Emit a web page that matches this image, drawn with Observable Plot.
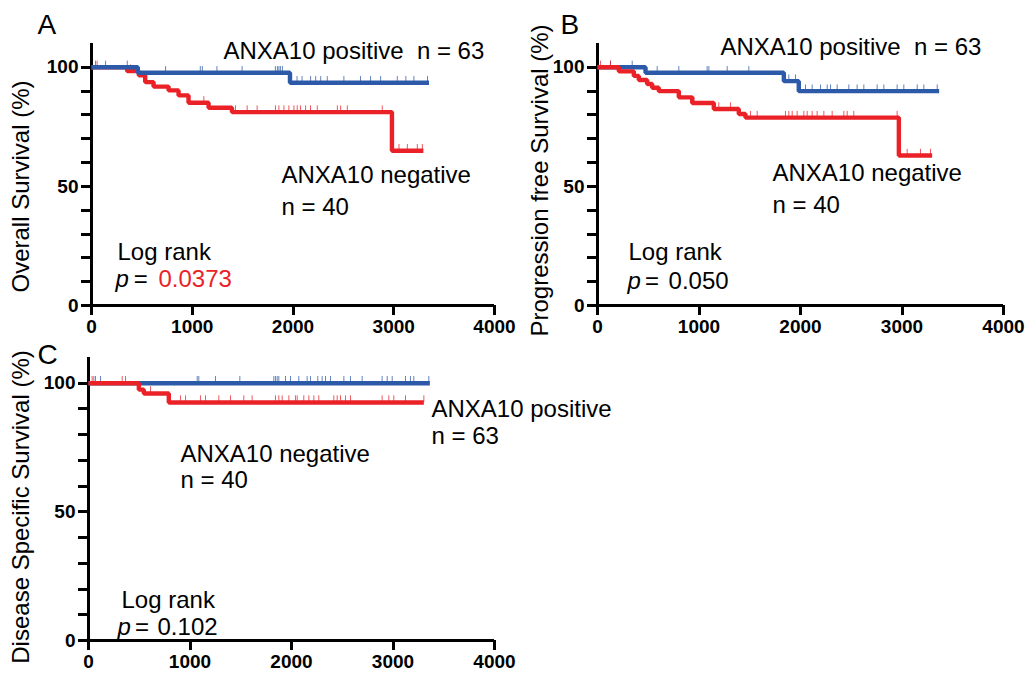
<!DOCTYPE html>
<html>
<head>
<meta charset="utf-8">
<script src="https://cdn.jsdelivr.net/npm/d3@7"></script>
<script src="https://cdn.jsdelivr.net/npm/@observablehq/plot@0.6"></script>
<style>
  html, body { margin: 0; padding: 0; background: #fff; }
  #wrap { position: relative; width: 1027px; height: 674px; overflow: hidden; background: #fff; }
  #wrap > div { position: absolute; }
  #wrap svg { overflow: visible; max-width: none !important; }
</style>
</head>
<body>
<div id="wrap">
  <div id="pA" style="left:0px;top:0px;width:510px;height:340px"></div>
  <div id="pB" style="left:510px;top:0px;width:517px;height:340px"></div>
  <div id="pC" style="left:0px;top:334px;width:640px;height:340px"></div>
</div>
<script>
// ---------- shared tick values ----------
const xTicks = [0, 1000, 2000, 3000, 4000];
const yTicks = [0, 10, 20, 30, 40, 50, 60, 70, 80, 90, 100];
const yTickLabels = [0, 50, 100];

// ---------- group labels ----------
const posLabel = "ANXA10 positive";
const negLabel = "ANXA10 negative";
const posN = "n = 63";
const negN = "n = 40";
const logRank = "Log rank";

// ---------- Panel A: Overall survival ----------
const osPosTime = [0, 460, 1970, 3350];
const osPosSurv = [100, 97.7, 93.5, 93.5];
const osNegTime = [0, 354, 470, 533, 616, 765, 864, 963, 1162, 1394, 2982, 3294];
const osNegSurv = [100, 98.4, 96.6, 93.8, 91.9, 90.3, 88.2, 85.1, 83.0, 81.2, 65.0, 65.0];
const osPosCensor = [40, 140, 355, 735, 1080, 1100, 1245, 1495, 1825, 1845, 1860, 1875, 1895, 2040, 2090, 2175, 2225, 2275, 2340, 2505, 2670, 2770, 2870, 3035, 3120, 3200, 3335];
const osNegCensor = [56, 387, 1115, 1165, 1429, 1545, 1644, 1826, 1860, 1910, 1959, 2009, 2042, 2075, 2125, 2174, 2241, 2440, 2473, 2539, 2886, 3052, 3135, 3234, 3284];
const osP = "0.0373";

// ---------- Panel B: Progression free survival ----------
const pfsPosTime = [0, 473, 1836, 1983, 3366];
const pfsPosSurv = [100, 97.7, 94.2, 90.0, 90.0];
const pfsNegTime = [0, 210, 358, 407, 489, 539, 604, 801, 933, 1146, 1392, 1458, 2969, 3297];
const pfsNegSurv = [100, 98.3, 96.4, 94.7, 93.0, 91.4, 90.0, 87.4, 85.0, 82.5, 80.4, 78.9, 63.0, 63.0];
const pfsPosCensor = [128, 342, 588, 801, 1080, 1097, 1278, 1491, 1885, 1951, 2049, 2115, 2197, 2263, 2296, 2361, 2476, 2558, 2624, 2755, 2821, 2952, 3018, 3150, 3215, 3347];
const pfsNegCensor = [30, 128, 818, 949, 1195, 1310, 1507, 1573, 1852, 1885, 1918, 1967, 2033, 2066, 2115, 2164, 2230, 2312, 2427, 2460, 2525, 2952, 3051, 3182, 3281];
const pfsP = "0.050";

// ---------- Panel C: Disease specific survival ----------
const dssPosTime = [0, 3363];
const dssPosSurv = [100, 100];
const dssNegTime = [0, 496, 545, 791, 3304];
const dssNegSurv = [100, 97.5, 96.0, 92.5, 92.5];
const dssPosCensor = [53, 118, 1071, 1087, 1251, 1491, 1826, 1842, 1859, 1875, 1941, 1990, 2072, 2154, 2187, 2259, 2302, 2335, 2384, 2516, 2581, 2696, 2893, 2943, 2992, 3123, 3172, 3205, 3353];
const dssNegCensor = [36, 69, 332, 365, 611, 906, 956, 1103, 1153, 1284, 1399, 1530, 1612, 1842, 1875, 1908, 1974, 2039, 2056, 2121, 2171, 2220, 2269, 2417, 2450, 2483, 2532, 2581, 2893, 2959, 3008, 3123, 3304];
const dssP = "0.102";

// ---------- helpers ----------
const BLUE = "#2c5aa8";
const RED = "#ea2228";
const FONT = "'Liberation Sans', Helvetica, Arial, sans-serif";
const TEXT_SIZE = 24;

function survAt(times, surv, t) {
  let s = surv[0];
  for (let i = 0; i < times.length; i++) if (times[i] <= t) s = surv[i];
  return s;
}
function curve(times, surv) { return times.map((t, i) => ({t, s: surv[i]})); }
function censor(ct, times, surv) { return ct.map(t => ({t, s: survAt(times, surv, t)})); }

function groupMarks(times, surv, ct, color) {
  return [
    Plot.ruleX(censor(ct, times, surv), {x: "t", y1: "s", y2: d => d.s + 2.6, stroke: color, strokeOpacity: 0.75, strokeWidth: 1}),
    Plot.line(curve(times, surv), {x: "t", y: "s", curve: "step-after", stroke: color, strokeWidth: 4.4, strokeLinejoin: "miter", strokeLinecap: "butt"})
  ];
}

function txt(items, extra = {}) {
  return Plot.text(items, {x: "x", y: "y", text: "t", textAnchor: "start", lineAnchor: "bottom", fontSize: TEXT_SIZE, fill: "black", ...extra});
}

function panel(cfg) {
  return Plot.plot({
    width: cfg.width, height: cfg.height,
    marginLeft: cfg.mL, marginRight: cfg.mR, marginTop: cfg.mT, marginBottom: cfg.mB,
    x: {domain: [0, 4000]},
    y: {domain: [0, 110]},
    style: {fontFamily: FONT, background: "transparent", color: "black", overflow: "visible"},
    marks: [
      Plot.axisX({ticks: xTicks, tickSize: 10, tickPadding: 4, strokeWidth: 3, stroke: "black", shapeRendering: "crispEdges", fontSize: 19, fontWeight: "bold", tickFormat: d => String(d), label: null}),
      Plot.axisY({ticks: yTicks, tickSize: 10, tickPadding: 3, strokeWidth: 3, stroke: "black", shapeRendering: "crispEdges", fontSize: 19, fontWeight: "bold", tickFormat: d => yTickLabels.includes(d) ? String(d) : "", label: null}),
      Plot.ruleX([0], {y1: 0, y2: 110, strokeWidth: 3.6, stroke: "black", shapeRendering: "crispEdges"}),
      Plot.ruleY([0], {x1: 0, x2: 4000, strokeWidth: 3.6, stroke: "black", shapeRendering: "crispEdges"}),
      ...cfg.groups,
      ...cfg.texts,
      Plot.text([cfg.letter], {frameAnchor: "top-left", dx: cfg.letterDx, dy: cfg.letterDy, textAnchor: "start", lineAnchor: "bottom", fontSize: 28, fill: "black"}),
      Plot.text([cfg.yTitle], {frameAnchor: "left", dx: cfg.titleDx, dy: cfg.titleDy, rotate: -90, textAnchor: "middle", lineAnchor: "bottom", fontSize: TEXT_SIZE, fill: "black"})
    ]
  });
}

// ---------- Panel A ----------
document.getElementById("pA").append(panel({
  width: 510, height: 340, mL: 91, mR: 16, mT: 43, mB: 35,
  letter: "A", letterDx: -54, letterDy: -10,
  yTitle: "Overall Survival (%)", titleDx: -63, titleDy: 12,
  groups: [
    ...groupMarks(osNegTime, osNegSurv, osNegCensor, RED),
    ...groupMarks(osPosTime, osPosSurv, osPosCensor, BLUE)
  ],
  texts: [
    txt([{x: 1310, y: 103.7, t: posLabel + "\u00a0\u00a0" + posN}]),
    txt([{x: 1886, y: 51.6, t: negLabel}, {x: 1886, y: 38.2, t: negN}]),
    txt([{x: 258, y: 19.2, t: logRank}]),
    txt([{x: 238, y: 7.6, t: "p"}], {fontStyle: "italic"}),
    txt([{x: 420, y: 7.6, t: "="}]),
    txt([{x: 665, y: 7.6, t: osP}], {fill: RED})
  ]
}));

// ---------- Panel B ----------
document.getElementById("pB").append(panel({
  width: 517, height: 340, mL: 87, mR: 24, mT: 43, mB: 35,
  letter: "B", letterDx: -37, letterDy: -10,
  yTitle: "Progression free Survival (%)", titleDx: -50, titleDy: 6,
  groups: [
    ...groupMarks(pfsPosTime, pfsPosSurv, pfsPosCensor, BLUE),
    ...groupMarks(pfsNegTime, pfsNegSurv, pfsNegCensor, RED)
  ],
  texts: [
    txt([{x: 1212, y: 105, t: posLabel + "\u00a0\u00a0" + posN}]),
    txt([{x: 1724, y: 52.1, t: negLabel}, {x: 1724, y: 39.0, t: negN}]),
    txt([{x: 305, y: 19.2, t: logRank}]),
    txt([{x: 296, y: 7.1, t: "p"}], {fontStyle: "italic"}),
    txt([{x: 468, y: 7.1, t: "="}]),
    txt([{x: 700, y: 7.1, t: pfsP}])
  ]
}));

// ---------- Panel C ----------
document.getElementById("pC").append(panel({
  width: 640, height: 340, mL: 88, mR: 146, mT: 23, mB: 34,
  letter: "C", letterDx: -51, letterDy: 6,
  yTitle: "Disease Specific Survival (%)", titleDx: -60, titleDy: 8,
  groups: [
    ...groupMarks(dssPosTime, dssPosSurv, dssPosCensor, BLUE),
    ...groupMarks(dssNegTime, dssNegSurv, dssNegCensor, RED)
  ],
  texts: [
    txt([{x: 3379, y: 86.8, t: posLabel}, {x: 3379, y: 76.3, t: posN}]),
    txt([{x: 906, y: 69.3, t: negLabel}, {x: 906, y: 59.1, t: negN}]),
    txt([{x: 325, y: 12.8, t: logRank}]),
    txt([{x: 286, y: 2.3, t: "p"}], {fontStyle: "italic"}),
    txt([{x: 458, y: 2.3, t: "="}]),
    txt([{x: 680, y: 2.3, t: dssP}])
  ]
}));
</script>
</body>
</html>
